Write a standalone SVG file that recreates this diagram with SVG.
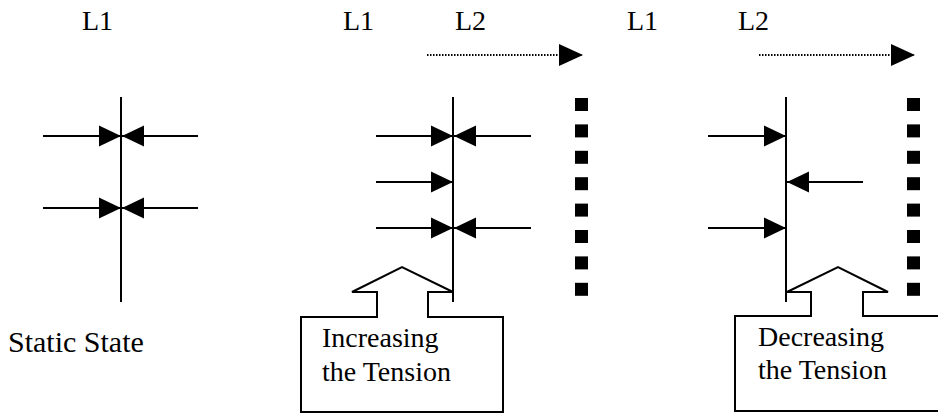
<svg xmlns="http://www.w3.org/2000/svg" width="938" height="415" viewBox="0 0 938 415">
<style>
.t{font-family:'Liberation Serif','Times New Roman',Tinos,'DejaVu Serif','Noto Serif',serif;font-size:28px;fill:#000}
.ln{stroke:#000;stroke-width:2;fill:none}
.dot{stroke:#000;stroke-width:2;fill:none;stroke-dasharray:1.5 1.5}
.call{stroke:#000;stroke-width:2;fill:#fff}
.sq{fill:#000}
</style>
<defs>
<marker id="ah" markerUnits="userSpaceOnUse" markerWidth="22" markerHeight="22" refX="22" refY="11" orient="auto" viewBox="0 0 22 22">
<path d="M0,0.5 L22,11 L0,21.5 Z" fill="#000"/>
</marker>
<marker id="ahd" markerUnits="userSpaceOnUse" markerWidth="24" markerHeight="22" refX="24" refY="11" orient="auto" viewBox="0 0 24 22">
<path d="M0,0 L24,11 L0,22 Z" fill="#000"/>
</marker>
</defs>
<rect width="938" height="415" fill="#fff"/>

<g id="labels">
<text class="t" x="82" y="30">L1</text>
<text class="t" x="343" y="30">L1</text>
<text class="t" x="455" y="30">L2</text>
<text class="t" x="627" y="30">L1</text>
<text class="t" x="738" y="30">L2</text>
<text class="t" x="8" y="352" style="font-size:30px">Static State</text>
</g>

<g id="panel1-line"><line class="ln" x1="121" y1="97" x2="121" y2="302"/></g>
<g id="panel2-line"><line class="ln" x1="453" y1="97" x2="453" y2="302"/></g>
<g id="panel3-line"><line class="ln" x1="786" y1="97" x2="786" y2="302"/></g>

<g id="panel2-wall">
<rect class="sq" x="575" y="98" width="13" height="13"/>
<rect class="sq" x="575" y="124.4" width="13" height="13"/>
<rect class="sq" x="575" y="150.8" width="13" height="13"/>
<rect class="sq" x="575" y="177.2" width="13" height="13"/>
<rect class="sq" x="575" y="203.6" width="13" height="13"/>
<rect class="sq" x="575" y="230" width="13" height="13"/>
<rect class="sq" x="575" y="256.4" width="13" height="13"/>
<rect class="sq" x="575" y="282.8" width="13" height="13"/>
</g>
<g id="panel3-wall">
<rect class="sq" x="907" y="98" width="13" height="13"/>
<rect class="sq" x="907" y="124.4" width="13" height="13"/>
<rect class="sq" x="907" y="150.8" width="13" height="13"/>
<rect class="sq" x="907" y="177.2" width="13" height="13"/>
<rect class="sq" x="907" y="203.6" width="13" height="13"/>
<rect class="sq" x="907" y="230" width="13" height="13"/>
<rect class="sq" x="907" y="256.4" width="13" height="13"/>
<rect class="sq" x="907" y="282.8" width="13" height="13"/>
</g>

<g id="connectors">
<line class="ln" x1="43" y1="136" x2="121" y2="136" marker-end="url(#ah)"/>
<line class="ln" x1="198" y1="136" x2="122" y2="136" marker-end="url(#ah)"/>
<line class="ln" x1="43" y1="208" x2="121" y2="208" marker-end="url(#ah)"/>
<line class="ln" x1="198" y1="208" x2="122" y2="208" marker-end="url(#ah)"/>

<line class="ln" x1="376" y1="136" x2="453" y2="136" marker-end="url(#ah)"/>
<line class="ln" x1="531" y1="136" x2="454" y2="136" marker-end="url(#ah)"/>
<line class="ln" x1="376" y1="182" x2="453" y2="182" marker-end="url(#ah)"/>
<line class="ln" x1="376" y1="228" x2="453" y2="228" marker-end="url(#ah)"/>
<line class="ln" x1="531" y1="228" x2="454" y2="228" marker-end="url(#ah)"/>
<line class="dot" x1="427" y1="55" x2="583" y2="55" marker-end="url(#ahd)"/>

<line class="ln" x1="708" y1="136" x2="786" y2="136" marker-end="url(#ah)"/>
<line class="ln" x1="863" y1="182" x2="787" y2="182" marker-end="url(#ah)"/>
<line class="ln" x1="708" y1="228" x2="786" y2="228" marker-end="url(#ah)"/>
<line class="dot" x1="759" y1="55" x2="915" y2="55" marker-end="url(#ahd)"/>
</g>

<g id="callout-increase">
<path class="call" d="M301,317 L377,317 L377,292 L352,292 L402,267 L453,292 L428,292 L428,317 L503,317 L503,412 L301,412 Z"/>
<text class="t" x="322" y="347">Increasing</text>
<text class="t" x="322" y="381">the Tension</text>
</g>

<g id="callout-decrease">
<path class="call" d="M735,316 L811,316 L811,292 L787,292 L838,267 L888,292 L863,292 L863,316 L945,316 L945,411 L735,411 Z"/>
<text class="t" x="758" y="346">Decreasing</text>
<text class="t" x="758" y="379">the Tension</text>
</g>
</svg>
